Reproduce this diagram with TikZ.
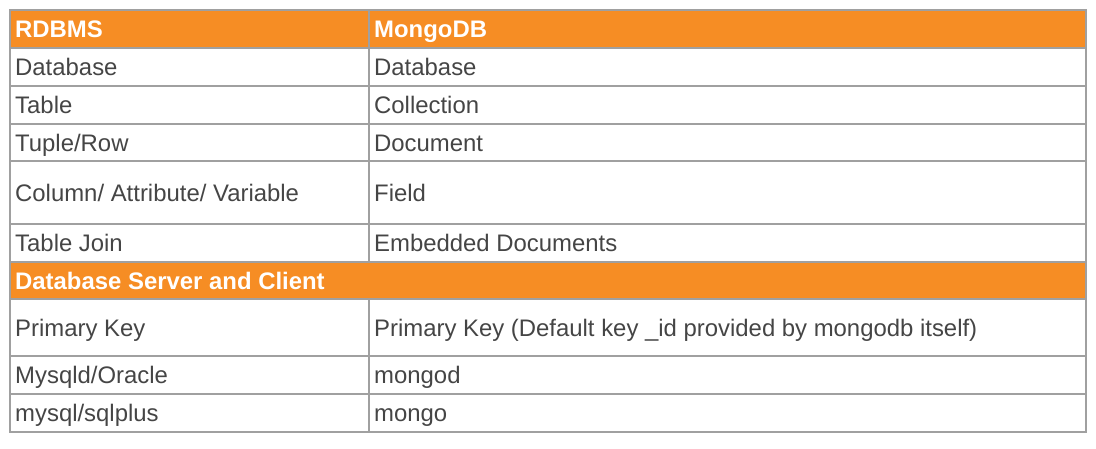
\documentclass[tikz,border=0pt]{standalone}
\usepackage{fontspec}
\setmainfont{Liberation Sans}
\usetikzlibrary{positioning}
\definecolor{hdr}{HTML}{F68D24}
\definecolor{txt}{HTML}{454545}
\definecolor{rule}{HTML}{A0A0A0}
\tikzstyle{every node}=[font=\fontsize{23.9}{28}\selectfont,text=txt,inner sep=0pt]
\tikzstyle{cell}=[anchor=west,text height=17.2pt,text depth=0pt]
\tikzstyle{head}=[cell,text=white,font=\fontsize{23.9}{28}\selectfont\bfseries]
\tikzstyle{grid}=[draw=rule,line width=1.5pt]

\begin{document}
\begin{tikzpicture}[x=1pt,y=-1pt]
\useasboundingbox (0,0) rectangle (1096,449);
\fill[hdr] (10,10) rectangle (1086,48) (10,262) rectangle (1086,299);
\path[grid]
  (10,10) rectangle (1086,432)
  (369,10)--(369,262) (369,299)--(369,432)
  (10,48)--(1086,48) (10,86)--(1086,86) (10,124)--(1086,124)
  (10,161)--(1086,161) (10,224)--(1086,224) (10,262)--(1086,262)
  (10,299)--(1086,299) (10,356)--(1086,356) (10,394)--(1086,394);
% left column
\node[head] (rdbms) at (15,28.5) {RDBMS};
\node[cell] (rdb) at (15,67) {Database};
\node[cell] (rtab) at (15,105) {Table};
\node[cell] (rrow) at (15,142.5) {Tuple/Row};
\node[cell] (rcol) at (15,192.5) {Column/ Attribute/ Variable};
\node[cell] (rjoin) at (15,243) {Table Join};
\node[head] (server) at (15,280.5) {Database Server and Client};
\node[cell] (rkey) at (15,327.5) {Primary Key};
\node[cell] (rsrv) at (15,375) {Mysqld/Oracle};
\node[cell] (rcli) at (15,413) {mysql/sqlplus};
% right column
\node[head] (mongodb) at (374,28.5) {MongoDB};
\node[cell] (mdb) at (374,67) {Database};
\node[cell] (mcoll) at (374,105) {Collection};
\node[cell] (mdoc) at (374,142.5) {Document};
\node[cell] (mfield) at (374,192.5) {Field};
\node[cell] (memb) at (374,243) {Embedded Documents};
\node[cell] (mkey) at (374,327.5) {Primary Key (Default key \_id provided by mongodb itself)};
\node[cell] (msrv) at (374,375) {mongod};
\node[cell] (mcli) at (374,413) {mongo};
\end{tikzpicture}
\end{document}
